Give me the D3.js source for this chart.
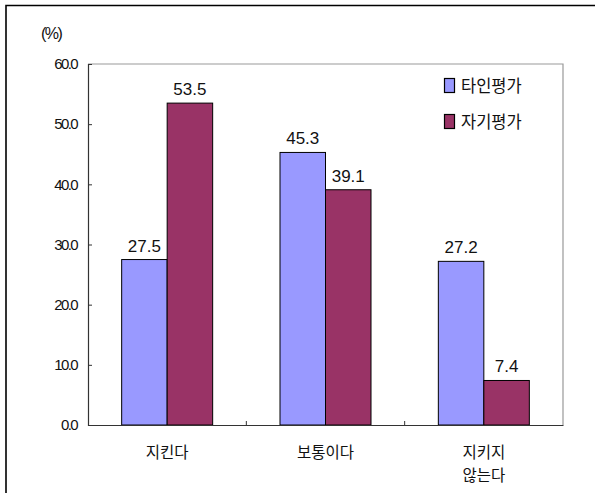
<!DOCTYPE html>
<html><head><meta charset="utf-8">
<script src="https://cdn.jsdelivr.net/npm/d3@7"></script>
<style>
body{margin:0;background:#fff;}
svg{display:block;}
</style></head>
<body>
<svg id="chart" width="595" height="493"></svg>
<script>
const categories = [["지킨다"], ["보통이다"], ["지키지", "않는다"]];
const seriesNames = ["타인평가", "자기평가"];
const seriesColors = ["#9999FF", "#993366"];
const otherEval = [27.5, 45.3, 27.2];
const selfEval = [53.5, 39.1, 7.4];
const yTicks = [0, 10, 20, 30, 40, 50, 60];
const unitLabel = "(%)";

const svg = d3.select("#chart");
const plot = {left: 88, top: 64, right: 563, bottom: 425};
const numFont = "'Liberation Sans', Arial, sans-serif";
const krFont = "'Noto Sans CJK KR', sans-serif";

// outer frame (top & left visible)
svg.append("path").attr("d", "M6,493 V5.5 H595").attr("fill", "none").attr("stroke", "#000").attr("stroke-width", 1.6);

const y = d3.scaleLinear().domain([0, 60]).range([plot.bottom, plot.top]);
const x0 = d3.scaleBand().domain(d3.range(categories.length)).range([plot.left, plot.right]).padding(0);
const barW = 45.5;
const x1 = d3.scaleBand().domain([0, 1]).range([0, barW * 2]).padding(0);

// plot border (top/right grey)
svg.append("path").attr("d", `M${plot.left},${plot.top} H${plot.right} V${plot.bottom}`)
  .attr("fill", "none").attr("stroke", "#999").attr("stroke-width", 1.2);

// bars
const series = [otherEval, selfEval];
series.forEach((vals, si) => {
  const g = svg.append("g");
  vals.forEach((v, ci) => {
    const bx = x0(ci) + (x0.bandwidth() - barW * 2) / 2 + x1(si);
    g.append("rect").attr("x", bx).attr("y", y(v)).attr("width", x1.bandwidth()).attr("height", y(0) - y(v))
      .attr("fill", seriesColors[si]).attr("stroke", "#000").attr("stroke-width", 1);
    svg.append("text").attr("x", bx + x1.bandwidth() / 2).attr("y", y(v) - 8)
      .attr("text-anchor", "middle").attr("font-family", numFont).attr("font-size", 17)
      .attr("fill", "#111").text(v.toFixed(1));
  });
});

// y axis
const yAxis = d3.axisLeft(y).tickValues(yTicks).tickFormat(d => d.toFixed(1)).tickSize(-4).tickPadding(11);
const ya = svg.append("g").attr("transform", `translate(${plot.left},0)`).call(yAxis);
ya.select(".domain").attr("stroke", "#333").attr("stroke-width", 1.2);
ya.selectAll(".tick line").attr("stroke", "#333");
ya.selectAll(".tick text").attr("font-family", numFont).attr("font-size", 15).attr("letter-spacing", "-1.6px").attr("fill", "#111");

// x axis
const xAxis = d3.axisBottom(x0).tickValues([]).tickSizeOuter(0);
const xa = svg.append("g").attr("transform", `translate(0,${plot.bottom})`).call(xAxis);
xa.select(".domain").attr("stroke", "#333").attr("stroke-width", 1.2);
// separators between categories (inward ticks)
d3.range(1, categories.length).forEach(i => {
  xa.append("line").attr("x1", x0(i)).attr("x2", x0(i)).attr("y1", 0).attr("y2", -4).attr("stroke", "#333");
});
categories.forEach((lines, ci) => {
  const t = svg.append("text").attr("text-anchor", "middle").attr("font-family", krFont).attr("font-size", 15.5).attr("fill", "#111");
  lines.forEach((ln, li) => {
    t.append("tspan").attr("x", x0(ci) + x0.bandwidth() / 2).attr("y", 458 + li * 23).text(ln);
  });
});

// unit label
svg.append("text").attr("x", 41).attr("y", 39).attr("font-family", numFont).attr("font-size", 16).attr("letter-spacing", "-1.5px").attr("fill", "#111").text(unitLabel);

// legend
seriesNames.forEach((name, i) => {
  const ly = 78 + i * 36;
  svg.append("rect").attr("x", 444.5).attr("y", ly + 0.5).attr("width", 10).attr("height", 14)
    .attr("fill", seriesColors[i]).attr("stroke", "#000").attr("stroke-width", 1.2);
  svg.append("text").attr("x", 461).attr("y", ly + 14).attr("font-family", krFont).attr("font-size", 16.5).attr("fill", "#111").text(name);
});
</script>
</body></html>
